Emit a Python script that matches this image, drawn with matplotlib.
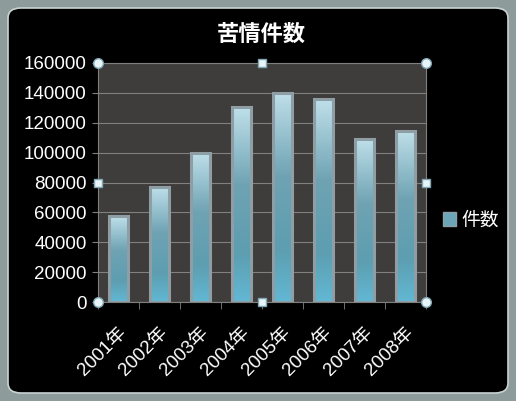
import numpy as np
import matplotlib.pyplot as plt
from matplotlib.patches import FancyBboxPatch, Rectangle
from matplotlib.colors import LinearSegmentedColormap

plt.rcParams['font.family'] = ['Liberation Sans', 'Noto Sans CJK JP', 'DejaVu Sans']

# data
years = ['2001年', '2002年', '2003年', '2004年', '2005年', '2006年', '2007年', '2008年']
counts = [57400, 77200, 99700, 130200, 140000, 135500, 109000, 114600]
series_name = '件数'
title = '苦情件数'

fig = plt.figure(figsize=(5.16, 4.01), dpi=100)
fig.patch.set_facecolor('#8d9b9b')

# outer frame: grey border with rounded black inner panel
frame = FancyBboxPatch((8 / 516, 8 / 401), 1 - 16 / 516, 1 - 16 / 401,
                       boxstyle='round,pad=0,rounding_size=0.025',
                       transform=fig.transFigure, facecolor='black',
                       edgecolor='#c9d2d2', linewidth=1.2, zorder=-10)
fig.patches.append(frame)

ax = fig.add_axes([0.1893, 0.2461, 0.6357, 0.5975])
ax.set_facecolor('#3f3c3c')

x = np.arange(len(years))
w = 0.46
bars = ax.bar(x, counts, width=w, facecolor='none', edgecolor='#8e9ea4',
              linewidth=2.2, zorder=3)

cmap = LinearSegmentedColormap.from_list('bar', [
    (0.0, '#62b8d4'), (0.25, '#5d9eb0'), (0.6, '#6fa3b3'), (1.0, '#bfe0ea')])
grad = np.linspace(0, 1, 256).reshape(-1, 1)
for b in bars:
    x0, h = b.get_x(), b.get_height()
    im = ax.imshow(grad, cmap=cmap, origin='lower', aspect='auto',
                   extent=[x0, x0 + w, 0, h], zorder=2)
    im.set_clip_path(b)

ax.set_xlim(-0.5, len(years) - 0.5)
ax.set_ylim(0, 160000)
ax.set_yticks(np.arange(0, 160001, 20000))
ax.grid(axis='y', color='#808080', linewidth=0.8, zorder=1)
ax.set_axisbelow(True)

ax.set_xticks(x)
ax.set_xticklabels(years, rotation=45, ha='right', rotation_mode='anchor')
ax.set_xticks(np.arange(-0.5, len(years), 1), minor=True)
ax.tick_params(axis='x', which='major', length=0, colors='white',
               labelsize=13.5, pad=16)
ax.tick_params(axis='x', which='minor', length=5, color='#808080',
               direction='out')
ax.tick_params(axis='y', length=4, color='#808080', colors='white',
               labelsize=13.5, pad=4)
for s in ax.spines.values():
    s.set_color('#808080')
    s.set_linewidth(0.8)

ax.set_title(title, color='white', fontsize=16, fontweight='bold', pad=16)

# legend to the right
leg = ax.legend([Rectangle((0, 0), 1, 1, facecolor='#6aa6b8',
                           edgecolor='#8e9ea4')], [series_name],
                loc='center left', bbox_to_anchor=(1.0, 0.34),
                frameon=False, fontsize=13.5, handlelength=0.7,
                handleheight=0.7, handletextpad=0.3)
for t in leg.get_texts():
    t.set_color('white')

# selection handles on the plot area
for hx, hy in [(0, 0), (0, 1), (1, 0), (1, 1)]:
    ax.plot(hx, hy, 'o', ms=7, mfc='#e8f4f8', mec='#7fa6b4',
            transform=ax.transAxes, clip_on=False, zorder=6)
for hx, hy in [(0.5, 0), (0.5, 1), (0, 0.5), (1, 0.5)]:
    ax.plot(hx, hy, 's', ms=6, mfc='#e8f4f8', mec='#7fa6b4',
            transform=ax.transAxes, clip_on=False, zorder=6)

fig.savefig('out.png', dpi=100, facecolor=fig.get_facecolor())
